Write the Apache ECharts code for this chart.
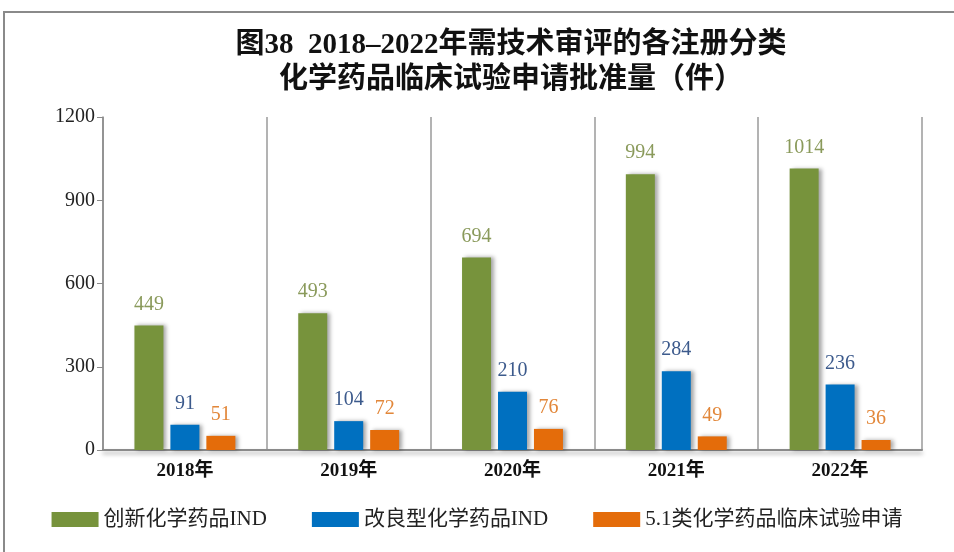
<!DOCTYPE html>
<html><head><meta charset="utf-8">
<script src="https://cdn.jsdelivr.net/npm/echarts@6/dist/echarts.min.js"></script>
<style>html,body{margin:0;padding:0;background:#fff}#c{width:954px;height:552px}</style>
</head><body><div id="c"></div>
<script>
const categories = ['2018年','2019年','2020年','2021年','2022年'];
const seriesNames = ['创新化学药品IND','改良型化学药品IND','5.1类化学药品临床试验申请'];
const innovative = [449, 493, 694, 994, 1014];
const improved = [91, 104, 210, 284, 236];
const class51 = [51, 72, 76, 49, 36];
const yTicks = {min: 0, max: 1200, interval: 300};

const barColors = ['#77933c', '#0070c0', '#e46c0a'];
const labelColors = ['#8a9a5b', '#3c5a8c', '#e2873a'];
const serif = '"Liberation Serif","Noto Sans CJK SC",serif';

const chart = echarts.init(document.getElementById('c'));
function mk(name, data, i) {
  return {
    name, type: 'bar', data,
    barWidth: 29, barGap: '24%',
    itemStyle: {color: barColors[i], shadowColor: 'rgba(0,0,0,0.35)', shadowBlur: 4, shadowOffsetX: 3, shadowOffsetY: 0},
    label: {show: true, position: 'top', distance: 11, color: labelColors[i], fontFamily: serif, fontSize: 20}
  };
}
chart.setOption({
  animation: false,
  backgroundColor: '#fff',
  graphic: [{type: 'rect', shape: {x: 4, y: 12, width: 970, height: 560}, style: {fill: 'none', stroke: '#8a8a8a', lineWidth: 2}, z: -1}],
  title: {
    text: '图38  2018–2022年需技术审评的各注册分类\n化学药品临床试验申请批准量（件）',
    left: 506, textAlign: 'center', top: 23,
    textStyle: {fontFamily: serif, fontWeight: 'bold', fontSize: 29, lineHeight: 35, color: '#111'}
  },
  legend: {
    data: seriesNames, bottom: 17, left: 'center', itemWidth: 47, itemHeight: 15, itemGap: 45,
    icon: 'rect',
    textStyle: {fontFamily: serif, fontSize: 21, color: '#222'}
  },
  grid: {left: 103, right: 32, top: 117, bottom: 102},
  xAxis: {
    type: 'category', data: categories,
    axisLine: {lineStyle: {color: '#8a8a8a', width: 2, shadowColor: 'rgba(0,0,0,0.35)', shadowBlur: 4, shadowOffsetY: 3}},
    axisTick: {show: false},
    axisLabel: {fontFamily: serif, fontWeight: 'bold', fontSize: 19, color: '#111', margin: 12},
    splitLine: {show: true, lineStyle: {color: '#9a9a9a', width: 1.5}}
  },
  yAxis: {
    type: 'value', min: yTicks.min, max: yTicks.max, interval: yTicks.interval,
    axisLine: {show: true, lineStyle: {color: '#8a8a8a', width: 1.5}},
    axisTick: {show: true, length: 6, lineStyle: {color: '#8a8a8a'}},
    axisLabel: {fontFamily: serif, fontSize: 20, color: '#222', margin: 8, formatter: v => String(v)},
    splitLine: {show: false}
  },
  series: [mk(seriesNames[0], innovative, 0), mk(seriesNames[1], improved, 1), mk(seriesNames[2], class51, 2)]
});
</script></body></html>
